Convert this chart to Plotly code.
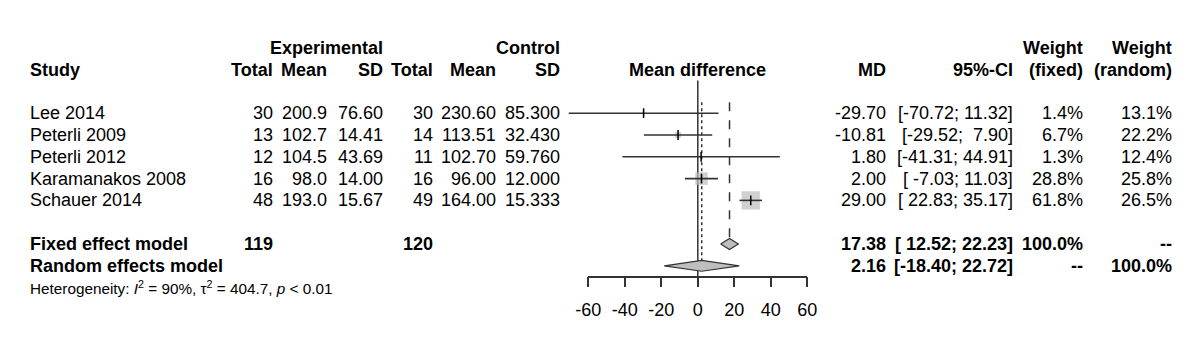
import plotly.graph_objects as go
import numpy as np

# ---------------- data ----------------
studies = ["Lee 2014", "Peterli 2009", "Peterli 2012", "Karamanakos 2008", "Schauer 2014"]
exp_n = [30, 13, 12, 16, 48]
exp_mean = [200.9, 102.7, 104.5, 98.0, 193.0]
exp_sd = [76.60, 14.41, 43.69, 14.00, 15.67]
ctl_n = [30, 14, 11, 16, 49]
ctl_mean = [230.60, 113.51, 102.70, 96.00, 164.00]
ctl_sd = [85.300, 32.430, 59.760, 12.000, 15.333]
md = [-29.70, -10.81, 1.80, 2.00, 29.00]
ci_lo = [-70.72, -29.52, -41.31, -7.03, 22.83]
ci_hi = [11.32, 7.90, 44.91, 11.03, 35.17]
w_fixed = [1.4, 6.7, 1.3, 28.8, 61.8]
w_random = [13.1, 22.2, 12.4, 25.8, 26.5]

fixed_label = "Fixed effect model"
fixed_n_exp, fixed_n_ctl = 119, 120
fixed_md, fixed_lo, fixed_hi = 17.38, 12.52, 22.23
fixed_w_fixed, fixed_w_random = "100.0%", "--"

random_label = "Random effects model"
random_md, random_lo, random_hi = 2.16, -18.40, 22.72
random_w_fixed, random_w_random = "--", "100.0%"

het_I2, het_tau2, het_p = "90%", "404.7", "0.01"
x_ticks = [-60, -40, -20, 0, 20, 40, 60]

# ---------------- layout constants (pixels) ----------------
W, H = 1200, 353
X0_PX, PX_PER_UNIT = 697.8, 1.825      # pixel of MD=0, pixels per unit
ROW0_PX, ROW_PX = 47.8, 21.8           # pixel of row 0, row spacing
AXIS_PX = 276.7                         # pixel y of the forest x-axis line
FONT = "Liberation Sans, Arial, Helvetica, sans-serif"
LINE_COL = "#333333"
BOX_COL = "#bebebe"
BOX_MAX = 18.3
DIAMOND_HALF = 0.25

ROW_HDR1, ROW_HDR2 = 0, 1
study_rows = [3 + i for i in range(len(studies))]
ROW_FIXED, ROW_RANDOM, ROW_HET = study_rows[-1] + 2, study_rows[-1] + 3, study_rows[-1] + 4

col_right = dict(exp_n=273.7, exp_mean=328.0, exp_sd=383.7, ctl_n=433.7,
                 ctl_mean=497.0, ctl_sd=560.5, md=887.0, ci=1014.3, wf=1083.5, wr=1172.5)
STUDY_LEFT = 28.5

xrange_main = [(0 - X0_PX) / PX_PER_UNIT, (W - X0_PX) / PX_PER_UNIT]
yrange_main = [(H - ROW0_PX) / ROW_PX, (0 - ROW0_PX) / ROW_PX]
axis_row = (AXIS_PX - ROW0_PX) / ROW_PX

fig = go.Figure()

# reference lines
fig.add_trace(go.Scatter(x=[0, 0], y=[ROW_HDR2 + 0.5, axis_row], mode="lines",
                         line=dict(color=LINE_COL, width=1.5), hoverinfo="skip", showlegend=False))
fig.add_trace(go.Scatter(x=[random_md, random_md], y=[2.5, ROW_RANDOM - DIAMOND_HALF], mode="lines",
                         line=dict(color=LINE_COL, width=1.5, dash="dot"), hoverinfo="skip", showlegend=False))
fig.add_trace(go.Scatter(x=[fixed_md, fixed_md], y=[2.5, ROW_FIXED - DIAMOND_HALF], mode="lines",
                         line=dict(color=LINE_COL, width=1.5, dash="dash"), hoverinfo="skip", showlegend=False))

# boxes
wmax = max(w_fixed)
fig.add_trace(go.Scatter(x=md, y=study_rows, mode="markers",
                         marker=dict(symbol="square", color=BOX_COL,
                                     size=[BOX_MAX * np.sqrt(w / wmax) for w in w_fixed],
                                     line=dict(width=0)),
                         hoverinfo="skip", showlegend=False))

# CI lines
cx, cy = [], []
for lo, hi, r in zip(ci_lo, ci_hi, study_rows):
    cx += [lo, hi, None]
    cy += [r, r, None]
fig.add_trace(go.Scatter(x=cx, y=cy, mode="lines", line=dict(color=LINE_COL, width=1.6),
                         hoverinfo="skip", showlegend=False))

# point estimate ticks
fig.add_trace(go.Scatter(x=md, y=study_rows, mode="markers",
                         marker=dict(symbol="line-ns", size=7, line=dict(width=1.5, color="black")),
                         hoverinfo="skip", showlegend=False))

# diamonds
for est, lo, hi, r in [(fixed_md, fixed_lo, fixed_hi, ROW_FIXED), (random_md, random_lo, random_hi, ROW_RANDOM)]:
    fig.add_trace(go.Scatter(x=[lo, est, hi, est, lo], y=[r, r - DIAMOND_HALF, r, r + DIAMOND_HALF, r],
                             mode="lines", fill="toself", fillcolor=BOX_COL,
                             line=dict(color=LINE_COL, width=1.2), hoverinfo="skip", showlegend=False))

# invisible trace to show axis x2
fig.add_trace(go.Scatter(x=[x_ticks[0]], y=[axis_row], xaxis="x2", yaxis="y", mode="markers",
                         marker=dict(opacity=0), hoverinfo="skip", showlegend=False))

# ---------------- text ----------------
anns = []


def ann(text, xpx, row, bold=False, anchor="right", size=18):
    if bold:
        text = "<b>" + text + "</b>"
    anns.append(dict(text=text, x=xpx / W, xref="paper", y=row, yref="y", xanchor=anchor,
                     yanchor="middle", showarrow=False, borderpad=0,
                     font=dict(family=FONT, size=size, color="black")))


# headers
ann("Experimental", col_right["exp_sd"], ROW_HDR1, bold=True)
ann("Control", col_right["ctl_sd"], ROW_HDR1, bold=True)
ann("Weight", col_right["wf"], ROW_HDR1, bold=True)
ann("Weight", col_right["wr"], ROW_HDR1, bold=True)
ann("Study", STUDY_LEFT, ROW_HDR2, bold=True, anchor="left")
for key, t in [("exp_n", "Total"), ("exp_mean", "Mean"), ("exp_sd", "SD"), ("ctl_n", "Total"),
               ("ctl_mean", "Mean"), ("ctl_sd", "SD"), ("md", "MD"), ("ci", "95%-CI"),
               ("wf", "(fixed)"), ("wr", "(random)")]:
    ann(t, col_right[key], ROW_HDR2, bold=True)
anns.append(dict(text="<b>Mean difference</b>", x=0, xref="x", y=ROW_HDR2, yref="y", xanchor="center",
                 yanchor="middle", showarrow=False, borderpad=0,
                 font=dict(family=FONT, size=18, color="black")))

all_lo = ci_lo + [fixed_lo, random_lo]
all_hi = ci_hi + [fixed_hi, random_hi]
LO_W = max(len("%.2f" % v) for v in all_lo)
HI_W = max(len("%.2f" % v) for v in all_hi)


def fmt_ci(lo, hi):
    s = "[" + ("%.2f" % lo).rjust(LO_W) + "; " + ("%.2f" % hi).rjust(HI_W) + "]"
    return s.replace(" ", "\u00a0")


for i, r in enumerate(study_rows):
    ann(studies[i], STUDY_LEFT, r, anchor="left")
    ann("%d" % exp_n[i], col_right["exp_n"], r)
    ann("%.1f" % exp_mean[i], col_right["exp_mean"], r)
    ann("%.2f" % exp_sd[i], col_right["exp_sd"], r)
    ann("%d" % ctl_n[i], col_right["ctl_n"], r)
    ann("%.2f" % ctl_mean[i], col_right["ctl_mean"], r)
    ann("%.3f" % ctl_sd[i], col_right["ctl_sd"], r)
    ann("%.2f" % md[i], col_right["md"], r)
    ann(fmt_ci(ci_lo[i], ci_hi[i]), col_right["ci"], r)
    ann("%.1f%%" % w_fixed[i], col_right["wf"], r)
    ann("%.1f%%" % w_random[i], col_right["wr"], r)

ann(fixed_label, STUDY_LEFT, ROW_FIXED, bold=True, anchor="left")
ann("%d" % fixed_n_exp, col_right["exp_n"], ROW_FIXED, bold=True)
ann("%d" % fixed_n_ctl, col_right["ctl_n"], ROW_FIXED, bold=True)
ann("%.2f" % fixed_md, col_right["md"], ROW_FIXED, bold=True)
ann(fmt_ci(fixed_lo, fixed_hi), col_right["ci"], ROW_FIXED, bold=True)
ann(fixed_w_fixed, col_right["wf"], ROW_FIXED, bold=True)
ann(fixed_w_random, col_right["wr"], ROW_FIXED, bold=True)

ann(random_label, STUDY_LEFT, ROW_RANDOM, bold=True, anchor="left")
ann("%.2f" % random_md, col_right["md"], ROW_RANDOM, bold=True)
ann(fmt_ci(random_lo, random_hi), col_right["ci"], ROW_RANDOM, bold=True)
ann(random_w_fixed, col_right["wf"], ROW_RANDOM, bold=True)
ann(random_w_random, col_right["wr"], ROW_RANDOM, bold=True)

ann("Heterogeneity: <i>I</i><sup>2</sup> = %s, \u03c4<sup>2</sup> = %s, <i>p</i> &lt; %s" % (het_I2, het_tau2, het_p),
    STUDY_LEFT, ROW_HET, anchor="left", size=15.3)

fig.update_layout(
    width=W, height=H, margin=dict(l=0, r=0, t=0, b=0, pad=0, autoexpand=False),
    paper_bgcolor="white", plot_bgcolor="rgba(0,0,0,0)",
    font=dict(family=FONT, size=18, color="black"),
    annotations=anns,
    xaxis=dict(domain=[0, 1], range=xrange_main, visible=False, fixedrange=True),
    yaxis=dict(domain=[0, 1], range=yrange_main, visible=False, fixedrange=True),
    xaxis2=dict(domain=[(X0_PX + x_ticks[0] * PX_PER_UNIT) / W, (X0_PX + x_ticks[-1] * PX_PER_UNIT) / W],
                range=[x_ticks[0], x_ticks[-1]], anchor="free", position=1 - AXIS_PX / H, side="bottom",
                showline=True, linecolor=LINE_COL, linewidth=1.5, ticks="outside", ticklen=10,
                tickwidth=1.5, tickcolor=LINE_COL, tickvals=x_ticks, ticktext=[str(t) for t in x_ticks],
                ticklabelstandoff=7,
                showgrid=False, zeroline=False, fixedrange=True, automargin=False,
                tickfont=dict(family=FONT, size=18, color="black")),
    showlegend=False,
)

fig.write_html("out.html")
